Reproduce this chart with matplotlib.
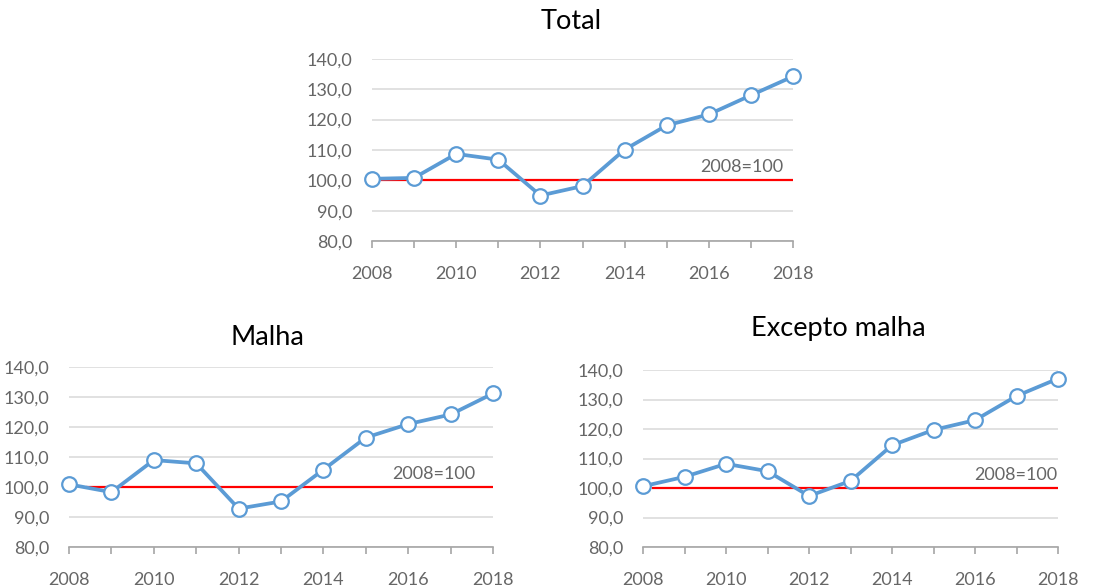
import matplotlib
matplotlib.use("Agg")
import matplotlib.pyplot as plt
from matplotlib.ticker import FuncFormatter

plt.rcParams["font.family"] = ["Lato", "DejaVu Sans"]

years = list(range(2008, 2019))
total = [100.5, 100.8, 108.7, 106.8, 95.0, 98.1, 110.1, 118.1, 121.7, 128.0, 134.2]
malha = [100.8, 98.2, 108.9, 107.8, 92.7, 95.1, 105.7, 116.4, 120.9, 124.1, 131.1]
excepto = [100.6, 103.8, 108.2, 105.7, 97.3, 102.4, 114.5, 119.7, 123.0, 131.2, 137.1]
base = 100
base_label = "2008=100"

BLUE = "#5B9BD5"
GRAY = "#666666"
GRID = "#D9D9D9"
AXIS = "#A6A6A6"


def draw_panel(ax, values, title, title_pos, red_span, label_x):
    ax.plot(years, values, color=BLUE, lw=2.7, marker="o", ms=10.5,
            mfc="white", mec=BLUE, mew=1.6, zorder=4, clip_on=False)
    ax.hlines(base, red_span[0], red_span[1], color="#FF0000", lw=1.6, zorder=3)
    ax.text(label_x, base + 1.6, base_label, color=GRAY, fontsize=13,
            ha="center", va="bottom")

    ax.set_xlim(2008, 2018)
    ax.set_ylim(80, 140)
    ax.set_yticks(range(80, 141, 10))
    ax.yaxis.set_major_formatter(FuncFormatter(lambda v, p: f"{v:.1f}".replace(".", ",")))
    ax.set_xticks(years)
    ax.set_xticklabels([str(y) if y % 2 == 0 else "" for y in years])

    ax.grid(axis="y", color=GRID, lw=1.1)
    ax.set_axisbelow(True)
    for s in ["top", "right", "left"]:
        ax.spines[s].set_visible(False)
    ax.spines["bottom"].set_color(AXIS)
    ax.spines["bottom"].set_linewidth(1.2)
    ax.tick_params(axis="x", colors=AXIS, labelcolor=GRAY, direction="out",
                   length=5, width=1.2, pad=13, labelsize=13)
    ax.tick_params(axis="y", length=0, pad=14, labelcolor=GRAY, labelsize=13)
    ax.text(title_pos[0], title_pos[1], title, transform=ax.transAxes,
            fontsize=19.5, color="black", ha="center", va="center")


fig = plt.figure(figsize=(11.17, 5.88), dpi=100)

ax1 = fig.add_axes([0.333, 0.590, 0.377, 0.310])
draw_panel(ax1, total, "Total", (0.473, 1.205), (2008.22, 2018.13), 2016.77)

ax2 = fig.add_axes([0.0618, 0.0702, 0.3796, 0.306])
draw_panel(ax2, malha, "Malha", (0.467, 1.165), (2008.39, 2018.05), 2016.6)

ax3 = fig.add_axes([0.5757, 0.0697, 0.3715, 0.301])
draw_panel(ax3, excepto, "Excepto malha", (0.47, 1.235), (2008.22, 2018.2), 2016.98)

fig.savefig("out.png", dpi=100)
